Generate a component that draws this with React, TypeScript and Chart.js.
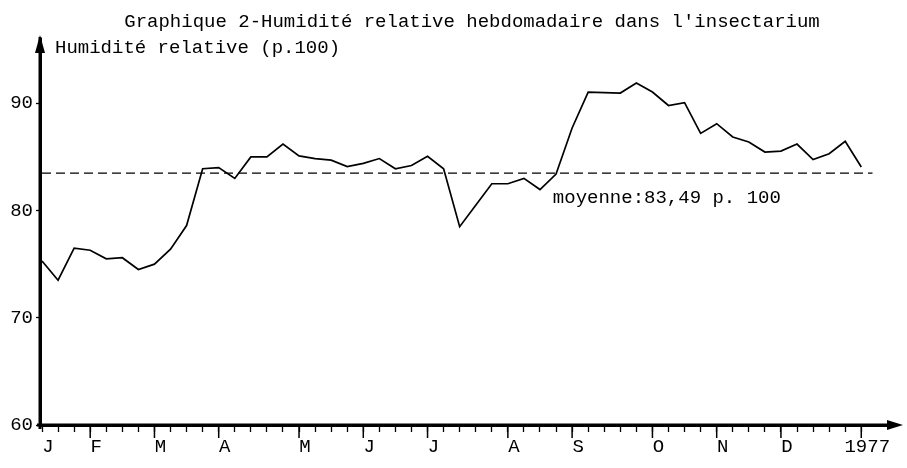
import React, { useEffect, useRef } from 'react';
import { Chart, registerables } from 'chart.js';

Chart.register(...registerables);

const titleText = "Graphique 2-Humidité relative hebdomadaire dans l'insectarium";
const yAxisTitle = 'Humidité relative (p.100)';
const meanLabel = 'moyenne:83,49 p. 100';

const weeks = [
  0, 1, 2, 3, 4, 5, 6, 7, 8, 9, 10, 11, 12, 13, 14, 15, 16, 17, 18, 19, 20, 21, 22, 23, 24, 25,
  26, 27, 28, 29, 30, 31, 32, 33, 34, 35, 36, 37, 38, 39, 40, 41, 42, 43, 44, 45, 46, 47, 48, 49, 50, 51,
];
const humidity = [
  75.3, 73.5, 76.5, 76.3, 75.5, 75.6, 74.5, 75.0, 76.4, 78.6, 83.9, 84.0, 83.0, 85.0, 85.0, 86.2,
  85.1, 84.85, 84.7, 84.1, 84.4, 84.85, 83.9, 84.2, 85.06, 83.9, 78.5, 80.5, 82.5, 82.5, 83.0, 81.96,
  83.4, 87.7, 91.05, 91.0, 90.96, 91.9, 91.05, 89.8, 90.06, 87.2, 88.1, 86.86, 86.4, 85.46, 85.55,
  86.2, 84.75, 85.3, 86.46, 84.06,
];
const meanValue = 83.49;
const meanSpan = [0, 51.7];
const meanLabelWeek = 31.8;

const monthLabels = ['J', 'F', 'M', 'A', 'M', 'J', 'J', 'A', 'S', 'O', 'N', 'D', '1977'];
const monthStarts = [0, 3, 7, 11, 16, 20, 24, 29, 33, 38, 42, 46, 51];
const yTicks = [60, 70, 80, 90];

const FONT = "'Liberation Mono', 'DejaVu Sans Mono', monospace";

const decorPlugin = {
  id: 'decor',
  afterDraw(chart: any) {
    const { ctx, chartArea, scales } = chart;
    const x = scales.x;
    const y = scales.y;
    ctx.save();
    ctx.fillStyle = '#000';
    ctx.strokeStyle = '#000';

    // long month ticks
    ctx.lineWidth = 1.5;
    monthStarts.forEach((w) => {
      if (w === 0) return;
      const px = x.getPixelForValue(w);
      ctx.beginPath();
      ctx.moveTo(px, chartArea.bottom);
      ctx.lineTo(px, chartArea.bottom + 13);
      ctx.stroke();
    });

    // axis extensions and arrows
    ctx.lineWidth = 3;
    ctx.beginPath();
    ctx.moveTo(chartArea.left, chartArea.bottom + 4);
    ctx.lineTo(chartArea.left, chartArea.top - 2);
    ctx.moveTo(chartArea.left - 3, chartArea.bottom);
    ctx.lineTo(chartArea.right, chartArea.bottom);
    ctx.stroke();

    ctx.beginPath();
    ctx.moveTo(chartArea.left, chartArea.top - 4);
    ctx.lineTo(chartArea.left - 5, chartArea.top + 14);
    ctx.lineTo(chartArea.left + 5, chartArea.top + 14);
    ctx.closePath();
    ctx.fill();

    ctx.beginPath();
    ctx.moveTo(chartArea.right + 8, chartArea.bottom);
    ctx.lineTo(chartArea.right - 8, chartArea.bottom - 5);
    ctx.lineTo(chartArea.right - 8, chartArea.bottom + 5);
    ctx.closePath();
    ctx.fill();

    // texts
    ctx.font = `19px ${FONT}`;
    ctx.textBaseline = 'middle';
    ctx.textAlign = 'center';
    ctx.fillText(titleText, 472, 22);
    ctx.textAlign = 'left';
    ctx.fillText(yAxisTitle, chartArea.left + 15, 48);
    ctx.fillText(meanLabel, x.getPixelForValue(meanLabelWeek), y.getPixelForValue(meanValue) + 25);
    ctx.restore();
  },
};

export default function App() {
  const ref = useRef<HTMLCanvasElement>(null);
  useEffect(() => {
    if (!ref.current) return;
    const chart = new Chart(ref.current, {
      type: 'line',
      data: {
        datasets: [
          {
            data: weeks.map((w, i) => ({ x: w, y: humidity[i] })),
            borderColor: '#000',
            borderWidth: 1.7,
            pointRadius: 0,
            tension: 0,
            fill: false,
          },
          {
            data: meanSpan.map((w) => ({ x: w, y: meanValue })),
            borderColor: '#000',
            borderWidth: 1.4,
            borderDash: [9, 5],
            pointRadius: 0,
            fill: false,
          },
        ],
      },
      options: {
        responsive: false,
        animation: false,
        layout: { padding: { top: 39, right: 12, left: 0, bottom: 0 } },
        plugins: { legend: { display: false }, tooltip: { enabled: false }, title: { display: false } },
        scales: {
          x: {
            type: 'linear',
            min: -0.125,
            max: 53.1,
            afterBuildTicks: (scale: any) => {
              scale.ticks = weeks.map((v) => ({ value: v }));
            },
            afterFit: (scale: any) => {
              scale.height = 43;
            },
            grid: {
              drawOnChartArea: false,
              drawTicks: true,
              tickLength: 7,
              tickColor: '#000',
              tickWidth: 1.3,
            },
            border: { display: true, color: '#000', width: 3 },
            ticks: {
              autoSkip: false,
              maxRotation: 0,
              color: '#000',
              padding: 4,
              labelOffset: 6,
              font: { family: FONT, size: 19 },
              callback: (value: any) => {
                const i = monthStarts.indexOf(value);
                return i >= 0 ? monthLabels[i] : '';
              },
            },
          },
          y: {
            type: 'linear',
            min: 60,
            max: 96,
            afterBuildTicks: (scale: any) => {
              scale.ticks = yTicks.map((v) => ({ value: v }));
            },
            afterFit: (scale: any) => {
              scale.width = 40;
            },
            grid: {
              drawOnChartArea: false,
              drawTicks: true,
              tickLength: 4,
              tickColor: '#000',
              tickWidth: 1.3,
            },
            border: { display: true, color: '#000', width: 3 },
            ticks: {
              color: '#000',
              padding: 3,
              font: { family: FONT, size: 19 },
              callback: (value: any) => String(value),
            },
          },
        },
      },
      plugins: [decorPlugin],
    });
    return () => chart.destroy();
  }, []);
  return (
    <div style={{ position: 'absolute', left: 0, top: 0, width: 907, height: 468, background: '#fff' }}>
      <canvas ref={ref} width={907} height={468} style={{ width: 907, height: 468 }} />
    </div>
  );
}
